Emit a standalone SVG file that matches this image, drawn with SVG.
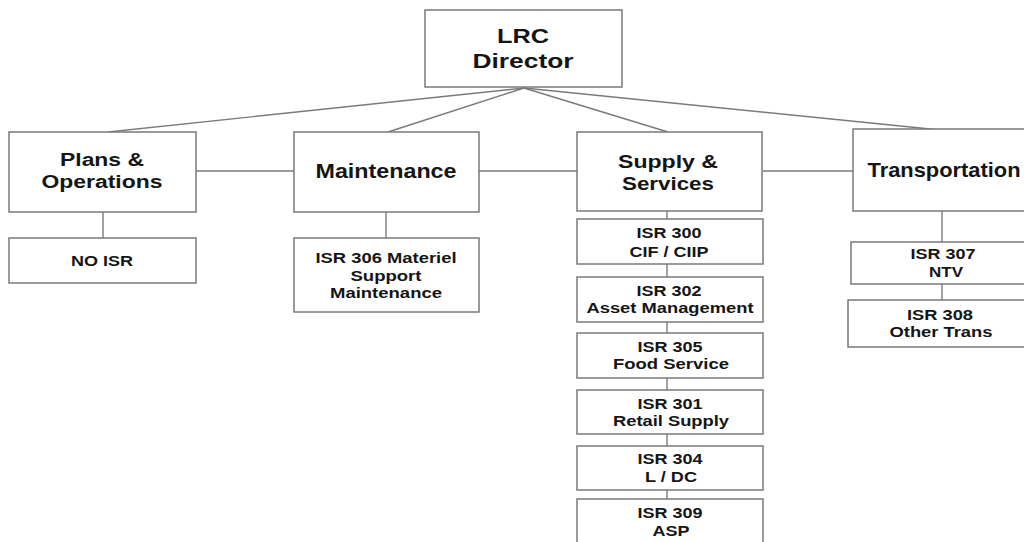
<svg xmlns="http://www.w3.org/2000/svg" width="1024" height="542" viewBox="0 0 1024 542">
  <style>
    .box { fill: #ffffff; stroke: #7a7a7a; stroke-width: 1.5; }
    .link { fill: none; stroke: #7a7a7a; stroke-width: 1.4; }
    text { font-family: "Liberation Sans", Arial, sans-serif; font-weight: bold; fill: #151515; text-anchor: middle; }
    .t1 { font-size: 21px; }
    .t2 { font-size: 18px; }
    .t3 { font-size: 14px; }
  </style>
  <rect width="1024" height="542" fill="#ffffff"/>

  <!-- connectors -->
  <g id="connectors">
    <line class="link" x1="524" y1="88" x2="108" y2="132"/>
    <line class="link" x1="524" y1="88" x2="388" y2="132"/>
    <line class="link" x1="524" y1="88" x2="668" y2="132"/>
    <line class="link" x1="524" y1="88" x2="940" y2="130"/>
    <line class="link" x1="196" y1="171" x2="294" y2="171"/>
    <line class="link" x1="479" y1="171" x2="577" y2="171"/>
    <line class="link" x1="763" y1="171" x2="853" y2="171"/>
    <line class="link" x1="103" y1="212" x2="103" y2="238"/>
    <line class="link" x1="386" y1="212" x2="386" y2="238"/>
    <line class="link" x1="667" y1="211" x2="667" y2="219"/>
    <line class="link" x1="667" y1="264" x2="667" y2="277"/>
    <line class="link" x1="667" y1="322" x2="667" y2="333"/>
    <line class="link" x1="667" y1="378" x2="667" y2="390"/>
    <line class="link" x1="667" y1="434" x2="667" y2="446"/>
    <line class="link" x1="667" y1="490" x2="667" y2="499"/>
    <line class="link" x1="942" y1="211" x2="942" y2="242"/>
    <line class="link" x1="942" y1="284" x2="942" y2="300"/>
  </g>

  <g id="director">
    <rect class="box" x="425" y="10" width="197" height="77"/>
    <text class="t1" x="523" y="43" textLength="52" lengthAdjust="spacingAndGlyphs">LRC</text>
    <text class="t1" x="523" y="68" textLength="101" lengthAdjust="spacingAndGlyphs">Director</text>
  </g>

  <g id="plans">
    <rect class="box" x="9" y="132" width="187" height="80"/>
    <text class="t2" x="102" y="166" textLength="84" lengthAdjust="spacingAndGlyphs">Plans &amp;</text>
    <text class="t2" x="102" y="188" textLength="121" lengthAdjust="spacingAndGlyphs">Operations</text>
  </g>
  <g id="no-isr">
    <rect class="box" x="9" y="238" width="187" height="45"/>
    <text class="t3" x="102" y="266" textLength="62" lengthAdjust="spacingAndGlyphs">NO ISR</text>
  </g>

  <g id="maintenance">
    <rect class="box" x="294" y="132" width="185" height="80"/>
    <text class="t1" x="386" y="178" textLength="141" lengthAdjust="spacingAndGlyphs">Maintenance</text>
  </g>
  <g id="isr306">
    <rect class="box" x="294" y="238" width="185" height="74"/>
    <text class="t3" x="386" y="263" textLength="141" lengthAdjust="spacingAndGlyphs">ISR 306 Materiel</text>
    <text class="t3" x="386" y="281" textLength="71" lengthAdjust="spacingAndGlyphs">Support</text>
    <text class="t3" x="386" y="298" textLength="112" lengthAdjust="spacingAndGlyphs">Maintenance</text>
  </g>

  <g id="supply">
    <rect class="box" x="577" y="132" width="185" height="79"/>
    <text class="t2" x="668" y="168" textLength="100" lengthAdjust="spacingAndGlyphs">Supply &amp;</text>
    <text class="t2" x="668" y="190" textLength="92" lengthAdjust="spacingAndGlyphs">Services</text>
  </g>
  <g id="isr300">
    <rect class="box" x="577" y="219" width="186" height="45"/>
    <text class="t3" x="669" y="238" textLength="65" lengthAdjust="spacingAndGlyphs">ISR 300</text>
    <text class="t3" x="669" y="257" textLength="79" lengthAdjust="spacingAndGlyphs">CIF / CIIP</text>
  </g>
  <g id="isr302">
    <rect class="box" x="577" y="277" width="186" height="45"/>
    <text class="t3" x="669" y="296" textLength="65" lengthAdjust="spacingAndGlyphs">ISR 302</text>
    <text class="t3" x="670" y="313" textLength="167" lengthAdjust="spacingAndGlyphs">Asset Management</text>
  </g>
  <g id="isr305">
    <rect class="box" x="577" y="333" width="186" height="45"/>
    <text class="t3" x="670" y="352" textLength="65" lengthAdjust="spacingAndGlyphs">ISR 305</text>
    <text class="t3" x="671" y="369" textLength="116" lengthAdjust="spacingAndGlyphs">Food Service</text>
  </g>
  <g id="isr301">
    <rect class="box" x="577" y="390" width="186" height="44"/>
    <text class="t3" x="670" y="409" textLength="65" lengthAdjust="spacingAndGlyphs">ISR 301</text>
    <text class="t3" x="671" y="426" textLength="116" lengthAdjust="spacingAndGlyphs">Retail Supply</text>
  </g>
  <g id="isr304">
    <rect class="box" x="577" y="446" width="186" height="44"/>
    <text class="t3" x="670" y="464" textLength="65" lengthAdjust="spacingAndGlyphs">ISR 304</text>
    <text class="t3" x="671" y="482" textLength="52" lengthAdjust="spacingAndGlyphs">L / DC</text>
  </g>
  <g id="isr309">
    <rect class="box" x="577" y="499" width="186" height="50"/>
    <text class="t3" x="670" y="518" textLength="65" lengthAdjust="spacingAndGlyphs">ISR 309</text>
    <text class="t3" x="671" y="536" textLength="37" lengthAdjust="spacingAndGlyphs">ASP</text>
  </g>

  <g id="transportation">
    <rect class="box" x="853" y="129" width="182" height="82"/>
    <text class="t1" x="944" y="177" textLength="153" lengthAdjust="spacingAndGlyphs">Transportation</text>
  </g>
  <g id="isr307">
    <rect class="box" x="851" y="242" width="184" height="42"/>
    <text class="t3" x="943" y="259" textLength="65" lengthAdjust="spacingAndGlyphs">ISR 307</text>
    <text class="t3" x="946" y="277" textLength="34" lengthAdjust="spacingAndGlyphs">NTV</text>
  </g>
  <g id="isr308">
    <rect class="box" x="848" y="300" width="187" height="47"/>
    <text class="t3" x="940" y="320" textLength="66" lengthAdjust="spacingAndGlyphs">ISR 308</text>
    <text class="t3" x="941" y="337" textLength="103" lengthAdjust="spacingAndGlyphs">Other Trans</text>
  </g>
</svg>
